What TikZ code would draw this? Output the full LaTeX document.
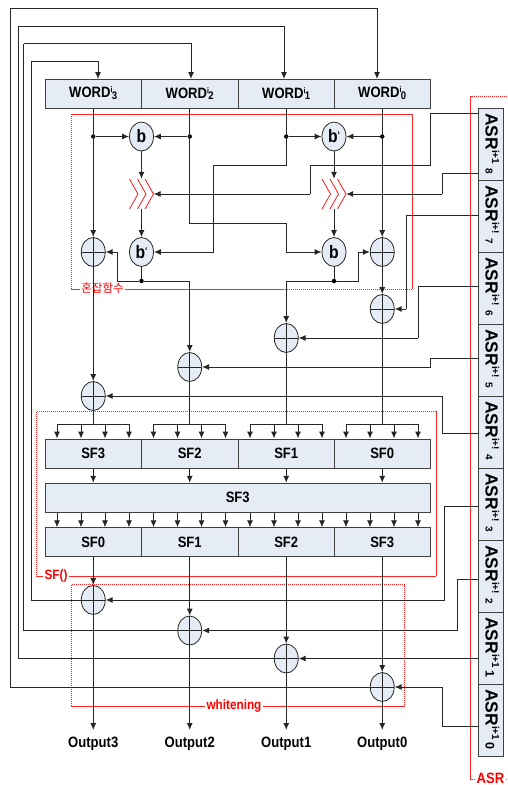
\documentclass[tikz,border=0pt]{standalone}
\usepackage{fontspec}
\setmainfont[FakeStretch=0.87]{Liberation Sans}
\newfontfamily\asrfont{Liberation Sans}
\newfontfamily\kfont{Noto Sans CJK KR}
\usepackage{tikz}
\usetikzlibrary{shapes.geometric,arrows.meta}
\usepackage{xcolor}
\definecolor{boxblue}{HTML}{E6ECF6}
\newcommand{\asrtxt}[3]{ASR{\fontsize{10}{10}\selectfont\raisebox{6.5pt}{i+#1}\hspace{#3}#2}}
\newcommand{\wordtxt}[1]{WORD\raisebox{5pt}{\fontsize{8}{8}\selectfont i}\hspace{-0.5pt}\raisebox{-1.8pt}{\fontsize{11}{11}\selectfont #1}}
\newcommand{\btick}{b{\fontsize{10}{10}\selectfont\raisebox{4pt}{`}}}

\begin{document}
\begin{tikzpicture}[
    x=1pt, y=-1pt,
    wordbox/.style={rectangle, fill=boxblue, draw=black!75, line width=1pt, minimum width=96.5pt, minimum height=29pt, inner sep=0pt, font=\bfseries\fontsize{15}{15}\selectfont},
    widebox/.style={wordbox, minimum width=385.5pt},
    asrbox/.style={rectangle, fill=boxblue, draw=black!75, line width=1pt, minimum width=25pt, minimum height=72pt},
    asrlbl/.style={anchor=base west, rotate=-90, inner sep=0pt, font=\asrfont\bfseries\fontsize{17.5}{17.5}\selectfont},
    xorbox/.style={ellipse, fill=boxblue, draw=black!85, line width=0.8pt, minimum width=24pt, minimum height=29pt, inner sep=0pt,
        path picture={\draw[black!85, line width=0.8pt] (path picture bounding box.north) -- (path picture bounding box.south) (path picture bounding box.west) -- (path picture bounding box.east);}},
    bitbox/.style={ellipse, fill=boxblue, draw=black!85, line width=0.8pt, minimum width=24pt, minimum height=29pt, inner sep=0pt, font=\bfseries\fontsize{18}{18}\selectfont},
    chev/.style={rectangle, minimum width=24pt, minimum height=30pt, inner sep=0pt},
    chevln/.style={red, line width=0.7pt},
    dotn/.style={circle, fill=black, minimum size=4.5pt, inner sep=0pt},
    ln/.style={line width=1pt, black!85},
    ar/.style={ln, -{Latex[length=7pt,width=6pt]}},
    redbox/.style={red!85, line width=1pt, dash pattern=on 1.4pt off 0.6pt},
    redlbl/.style={red, inner sep=1.5pt, fill=white, font=\bfseries\fontsize{13.5}{13.5}\selectfont},
    outlbl/.style={anchor=north, inner xsep=0pt, inner ysep=6.5pt, font=\bfseries\fontsize{15}{15}\selectfont},
]
\useasboundingbox (0,0) rectangle (507,785);
% red frames
\draw[redbox] (71.5,114) rectangle (412,289);
\node[red, inner sep=1pt, fill=white, font=\kfont\fontsize{11.5}{11.5}\selectfont] (lmix) at (102.5,288) {혼잡함수};
\draw[redbox] (36.5,411.7) rectangle (436,576);
\node[redlbl] (lsf) at (56,576) {SF()};
\draw[redbox] (71.5,584.5) rectangle (404,706.7);
\node[redlbl] (lwh) at (234,706) {whitening};
\draw[redbox] (507,96.5) -- (470.7,96.5) -- (470.7,779) -- (507,779);
\node[redlbl, font=\bfseries\fontsize{15}{15}\selectfont] (lasr) at (490.5,778) {ASR};
% top row
\node[wordbox] (w3) at (93.25,93.5) {\wordtxt{3}};
\node[wordbox] (w2) at (189.75,93.5) {\wordtxt{2}};
\node[wordbox] (w1) at (286.25,93.5) {\wordtxt{1}};
\node[wordbox] (w0) at (382.25,93.5) {\wordtxt{0}};
% mixing part
\node[bitbox] (bA) at (141.5,136.5) {b};
\node[bitbox] (bB) at (334,136.5) {\btick};
\node[bitbox] (bC) at (141.5,252) {\btick};
\node[bitbox] (bD) at (334,252) {b};
\node[chev] (cL) at (141.5,194) {};
\node[chev] (cR) at (334,194) {};
\draw[chevln] (129.5,179) -- (138,194) -- (129.5,209);
\draw[chevln] (137.5,179) -- (146,194) -- (137.5,209);
\draw[chevln] (145,179) -- (153.5,194) -- (145,209);
\draw[chevln] (322,179) -- (330.5,194) -- (322,209);
\draw[chevln] (330,179) -- (338.5,194) -- (330,209);
\draw[chevln] (337.5,179) -- (346,194) -- (337.5,209);
\node[dotn] (d3) at (93.25,136.5) {};
\node[dotn] (d2) at (189.75,136.5) {};
\node[dotn] (d1) at (286.25,136.5) {};
\node[dotn] (d0) at (382.25,136.5) {};
\node[dotn] (dL) at (141.5,281) {};
\node[dotn] (dR) at (334,281) {};
\node[xorbox] (x3a) at (93.25,252) {};
\node[xorbox] (x0a) at (382.25,252) {};
\node[xorbox] (x0b) at (382.25,309) {};
\node[xorbox] (x1b) at (286.25,338) {};
\node[xorbox] (x2b) at (189.75,367) {};
\node[xorbox] (x3b) at (93.25,396) {};
% SF rows
\node[wordbox] (s3) at (93.25,453.5) {SF3};
\node[wordbox] (s2) at (189.75,453.5) {SF2};
\node[wordbox] (s1) at (286.25,453.5) {SF1};
\node[wordbox] (s0) at (382.25,453.5) {SF0};
\node[widebox] (sm) at (237.75,497.8) {SF3};
\node[wordbox] (l0) at (93.25,542.3) {SF0};
\node[wordbox] (l1) at (189.75,542.3) {SF1};
\node[wordbox] (l2) at (286.25,542.3) {SF2};
\node[wordbox] (l3) at (382.25,542.3) {SF3};
% whitening part
\node[xorbox] (x3c) at (93.25,600) {};
\node[xorbox] (x2c) at (189.75,630.5) {};
\node[xorbox] (x1c) at (286.25,658.5) {};
\node[xorbox] (x0c) at (382.25,687) {};
\node[outlbl] (o3) at (93.25,730) {Output3};
\node[outlbl] (o2) at (189.75,730) {Output2};
\node[outlbl] (o1) at (286.25,730) {Output1};
\node[outlbl] (o0) at (382.25,730) {Output0};
% ASR column
\node[asrbox] (a8) at (490.5,144) {};
\node[asrbox] (a7) at (490.5,216) {};
\node[asrbox] (a6) at (490.5,288) {};
\node[asrbox] (a5) at (490.5,360) {};
\node[asrbox] (a4) at (490.5,432) {};
\node[asrbox] (a3) at (490.5,504) {};
\node[asrbox] (a2) at (490.5,576) {};
\node[asrbox] (a1) at (490.5,648) {};
\node[asrbox] (a0) at (490.5,720) {};
\node[asrlbl] (t8) at (485.5,113) {\asrtxt{1}{8}{4pt}};
\node[asrlbl] (t7) at (485.5,185) {\asrtxt{!}{7}{4pt}};
\node[asrlbl] (t6) at (485.5,257) {\asrtxt{!}{6}{4pt}};
\node[asrlbl] (t5) at (485.5,329) {\asrtxt{!}{5}{4pt}};
\node[asrlbl] (t4) at (485.5,401) {\asrtxt{!}{4}{4pt}};
\node[asrlbl] (t3) at (485.5,473) {\asrtxt{!}{3}{4pt}};
\node[asrlbl] (t2) at (485.5,545) {\asrtxt{!}{2}{4pt}};
\node[asrlbl] (t1) at (485.5,617) {\asrtxt{1}{\fontsize{12.5}{12.5}\selectfont 1}{2pt}};
\node[asrlbl] (t0) at (485.5,689) {\asrtxt{1}{\fontsize{12.5}{12.5}\selectfont 0}{2pt}};
% tap points on the ASR column
\coordinate (q8a) at (478,113.5);
\coordinate (q8b) at (478,173);
\coordinate (q7) at (478,215);
\coordinate (q6) at (478,286);
\coordinate (q5) at (478,358.5);
\coordinate (q4) at (478,433);
\coordinate (q3) at (478,506);
\coordinate (q2) at (478,579);
\coordinate (q1) at (478,658.5);
\coordinate (q0) at (478,726);
% bends
\coordinate (k1) at (430.5,165);
\coordinate (k2) at (310,194);
\coordinate (k3) at (442,194);
\coordinate (k4) at (406,309);
\coordinate (k5) at (418,338);
\coordinate (k6) at (430.5,367);
\coordinate (k7) at (442,396);
\coordinate (k8) at (444.5,600);
\coordinate (k9) at (457.5,630.5);
\coordinate (k10) at (442,687);
\coordinate (k11) at (286.25,223);
\coordinate (k12) at (213.5,165);
\coordinate (k13) at (117.5,252);
\coordinate (k14) at (358,252);
% ASR inputs
\draw[ln] (q8a) -| (k1) -| (k2);
\draw[ar] (k2) -- (cL.east);
\draw[ln] (q8b) -| (k3);
\draw[ar] (k3) -- (cR.east);
\draw[ln] (q7) -| (k4);
\draw[ar] (k4) -- (x0b.east);
\draw[ln] (q6) -| (k5);
\draw[ar] (k5) -- (x1b.east);
\draw[ln] (q5) -| (k6);
\draw[ar] (k6) -- (x2b.east);
\draw[ln] (q4) -| (k7);
\draw[ar] (k7) -- (x3b.east);
\draw[ln] (q3) -| (k8);
\draw[ar] (k8) -- (x3c.east);
\draw[ln] (q2) -| (k9);
\draw[ar] (k9) -- (x2c.east);
\draw[ar] (q1) -- (x1c.east);
\draw[ln] (q0) -| (k10);
\draw[ar] (k10) -- (x0c.east);
% word inputs
\draw[ar] (w3.south) -- (x3a.north);
\draw[ar] (w0.south) -- (x0a.north);
\draw[ar] (w2.south) |- (k11) |- (bD.west);
\draw[ar] (w1.south) |- (k12) |- (bC.east);
\draw[ar] (d3) -- (bA.west);
\draw[ar] (d2) -- (bA.east);
\draw[ar] (d1) -- (bB.west);
\draw[ar] (d0) -- (bB.east);
\draw[ar] (bA.south) -- (cL.north);
\draw[ar] (bB.south) -- (cR.north);
\draw[ar] (cL.south) -- (bC.north);
\draw[ar] (cR.south) -- (bD.north);
\draw[ln] (bC.south) -- (dL);
\draw[ln] (bD.south) -- (dR);
\draw[ln] (dL) -| (k13);
\draw[ar] (k13) -- (x3a.east);
\draw[ln] (dR) -| (k14);
\draw[ar] (k14) -- (x0a.west);
\draw[ar] (dL) -| (x2b.north);
\draw[ar] (dR) -| (x1b.north);
\draw[ar] (x0a.south) -- (x0b.north);
\draw[ar] (x3a.south) -- (x3b.north);
% fan above the SF row
\coordinate (t31) at (57,424);
\coordinate (t32) at (81,424);
\coordinate (t33) at (105,424);
\coordinate (t34) at (129,424);
\coordinate (t21) at (153.5,424);
\coordinate (t22) at (177.5,424);
\coordinate (t23) at (201.5,424);
\coordinate (t24) at (225.5,424);
\coordinate (t11) at (250,424);
\coordinate (t12) at (274,424);
\coordinate (t13) at (298,424);
\coordinate (t14) at (322,424);
\coordinate (t01) at (346,424);
\coordinate (t02) at (370,424);
\coordinate (t03) at (394,424);
\coordinate (t04) at (418,424);
\draw[ln] (x3b.south) -- (x3b.south |- t31);
\draw[ln] (x2b.south) -- (x2b.south |- t21);
\draw[ln] (x1b.south) -- (x1b.south |- t11);
\draw[ln] (x0b.south) -- (x0b.south |- t01);
\draw[ln] (t31) -- (t34);
\draw[ln] (t21) -- (t24);
\draw[ln] (t11) -- (t14);
\draw[ln] (t01) -- (t04);
\draw[ar] (t31) -- (t31 |- s3.north);
\draw[ar] (t32) -- (t32 |- s3.north);
\draw[ar] (t33) -- (t33 |- s3.north);
\draw[ar] (t34) -- (t34 |- s3.north);
\draw[ar] (t21) -- (t21 |- s2.north);
\draw[ar] (t22) -- (t22 |- s2.north);
\draw[ar] (t23) -- (t23 |- s2.north);
\draw[ar] (t24) -- (t24 |- s2.north);
\draw[ar] (t11) -- (t11 |- s1.north);
\draw[ar] (t12) -- (t12 |- s1.north);
\draw[ar] (t13) -- (t13 |- s1.north);
\draw[ar] (t14) -- (t14 |- s1.north);
\draw[ar] (t01) -- (t01 |- s0.north);
\draw[ar] (t02) -- (t02 |- s0.north);
\draw[ar] (t03) -- (t03 |- s0.north);
\draw[ar] (t04) -- (t04 |- s0.north);
% between the rows
\draw[ar] (s3.south) -- (s3.south |- sm.north);
\draw[ar] (s2.south) -- (s2.south |- sm.north);
\draw[ar] (s1.south) -- (s1.south |- sm.north);
\draw[ar] (s0.south) -- (s0.south |- sm.north);
\draw[ar] (t31 |- sm.south) -- (t31 |- l0.north);
\draw[ar] (t32 |- sm.south) -- (t32 |- l0.north);
\draw[ar] (t33 |- sm.south) -- (t33 |- l0.north);
\draw[ar] (t34 |- sm.south) -- (t34 |- l0.north);
\draw[ar] (t21 |- sm.south) -- (t21 |- l1.north);
\draw[ar] (t22 |- sm.south) -- (t22 |- l1.north);
\draw[ar] (t23 |- sm.south) -- (t23 |- l1.north);
\draw[ar] (t24 |- sm.south) -- (t24 |- l1.north);
\draw[ar] (t11 |- sm.south) -- (t11 |- l2.north);
\draw[ar] (t12 |- sm.south) -- (t12 |- l2.north);
\draw[ar] (t13 |- sm.south) -- (t13 |- l2.north);
\draw[ar] (t14 |- sm.south) -- (t14 |- l2.north);
\draw[ar] (t01 |- sm.south) -- (t01 |- l3.north);
\draw[ar] (t02 |- sm.south) -- (t02 |- l3.north);
\draw[ar] (t03 |- sm.south) -- (t03 |- l3.north);
\draw[ar] (t04 |- sm.south) -- (t04 |- l3.north);
% bottom part
\draw[ar] (l0.south) -- (x3c.north);
\draw[ar] (l1.south) -- (x2c.north);
\draw[ar] (l2.south) -- (x1c.north);
\draw[ar] (l3.south) -- (x0c.north);
\draw[ar] (x3c.south) -- (o3.north);
\draw[ar] (x2c.south) -- (o2.north);
\draw[ar] (x1c.south) -- (o1.north);
\draw[ar] (x0c.south) -- (o0.north);
% feedback to the words
\coordinate (f3a) at (31.5,61);
\coordinate (f2a) at (23.5,43.5);
\coordinate (f1a) at (18,26);
\coordinate (f0a) at (10,8.5);
\coordinate (e3) at (98,79);
\coordinate (e2) at (191,79);
\coordinate (e1) at (284,79);
\coordinate (e0) at (377,79);
\draw[ln] (x3c.west) -| (f3a);
\draw[ar] (f3a) -| (e3);
\draw[ln] (x2c.west) -| (f2a);
\draw[ar] (f2a) -| (e2);
\draw[ln] (x1c.west) -| (f1a);
\draw[ar] (f1a) -| (e1);
\draw[ln] (x0c.west) -| (f0a);
\draw[ar] (f0a) -| (e0);
\end{tikzpicture}
\end{document}
